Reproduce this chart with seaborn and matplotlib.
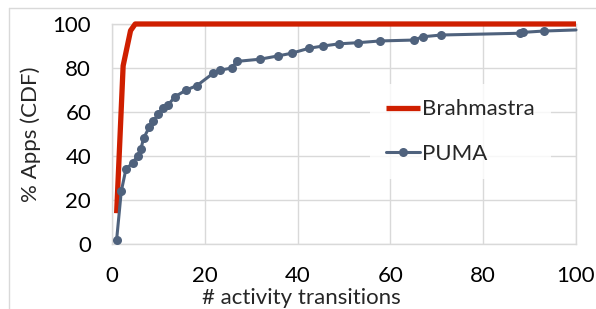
import numpy as np
import pandas as pd
import matplotlib
matplotlib.use("Agg")
import matplotlib.pyplot as plt
import seaborn as sns
from matplotlib.lines import Line2D

# CDF of activity transitions per app
brahmastra_x = [1, 2.4, 4, 5, 100]
brahmastra_y = [14, 81, 97, 100, 100]

puma_x = [1, 2, 3, 4.5, 5.5, 6.2, 6.8, 8, 8.9, 10, 11, 12, 13.6, 16, 18.3,
          21.8, 23.3, 25.8, 26.9, 31.9, 35.8, 38.7, 42.5, 45.5, 49, 53, 57.8,
          65, 67, 71, 88, 88.6, 93, 100]
puma_y = [2, 24, 34, 37, 40, 43, 48, 53, 56, 59, 62, 63, 67, 70, 72,
          77.6, 79, 80, 83, 84, 85.5, 86.7, 89, 90, 91, 91.5, 92.3,
          92.7, 94.2, 95, 95.8, 96.2, 96.8, 97.3]

x_ticks = [0, 20, 40, 60, 80, 100]
y_ticks = [0, 20, 40, 60, 80, 100]

sns.set_style("white")
plt.rcParams['font.family'] = ['Lato', 'DejaVu Sans']

red = '#cf1f00'
slate = '#4f627d'
grid_c = '#d9d9d9'
fs = 16

fig = plt.figure(figsize=(5.96, 3.09), dpi=100)
ax = fig.add_axes([112 / 596, 65 / 309, 464 / 596, 220 / 309])

df_b = pd.DataFrame({"x": brahmastra_x, "y": brahmastra_y})
df_p = pd.DataFrame({"x": puma_x, "y": puma_y})

sns.lineplot(data=df_b, x="x", y="y", ax=ax, color=red, lw=3.8,
             sort=False, label="Brahmastra", solid_capstyle='butt', zorder=3)
sns.lineplot(data=df_p, x="x", y="y", ax=ax, color=slate, lw=2.2,
             marker='o', markersize=6.5, markeredgewidth=0,
             markevery=list(range(len(puma_x) - 1)),
             sort=False, label="PUMA", zorder=4)

ax.set_xlim(0, 100)
ax.set_ylim(0, 100)
ax.set_xticks(x_ticks)
ax.set_yticks(y_ticks)
ax.tick_params(axis='both', length=0, labelsize=fs, colors='black')
ax.tick_params(axis='x', pad=16)
ax.tick_params(axis='y', pad=15)
ax.grid(True, color=grid_c, lw=1)
ax.set_axisbelow(True)
for s in ax.spines.values():
    s.set_color(grid_c)
    s.set_linewidth(1)
for ln in ax.lines:
    ln.set_clip_on(False)

ax.set_xlabel("")
ax.set_ylabel("% Apps (CDF)", fontsize=fs, labelpad=8)

leg = ax.legend(loc='center', bbox_to_anchor=(0.751, 0.511), fontsize=fs,
                frameon=True, fancybox=False, borderpad=0.7,
                labelspacing=1.1, handlelength=1.55, handletextpad=0.1,
                borderaxespad=0)
leg.get_frame().set_facecolor('white')
leg.get_frame().set_edgecolor('white')
leg.get_frame().set_linewidth(0)

fig.text(301 / 596, 5 / 309, "# activity transitions", fontsize=fs,
         ha='center', va='baseline')

# chart area border
fig.add_artist(Line2D([9 / 596, 1], [301 / 309, 301 / 309],
                      color=grid_c, lw=1, transform=fig.transFigure))
fig.add_artist(Line2D([9 / 596, 9 / 596], [0, 301 / 309],
                      color=grid_c, lw=1, transform=fig.transFigure))

fig.savefig("out.png", dpi=100)
